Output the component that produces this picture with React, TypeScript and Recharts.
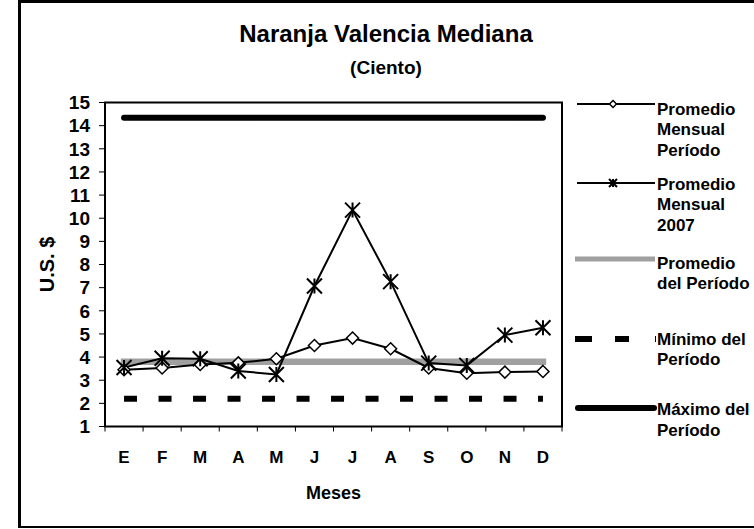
import React from 'react';
import {
  LineChart,
  Line,
  XAxis,
  YAxis,
  Label,
  Legend
} from 'recharts';

const MESES = ['E', 'F', 'M', 'A', 'M', 'J', 'J', 'A', 'S', 'O', 'N', 'D'];
const PROM_MENSUAL_PERIODO = [3.45, 3.53, 3.68, 3.75, 3.93, 4.5, 4.82, 4.36, 3.53, 3.3, 3.35, 3.38];
const PROM_MENSUAL_2007 = [3.55, 3.95, 3.93, 3.4, 3.25, 7.07, 10.35, 7.26, 3.74, 3.64, 4.95, 5.27];
const PROMEDIO_PERIODO = 3.8;
const MINIMO_PERIODO = 2.2;
const MAXIMO_PERIODO = 14.34;
const Y_TICKS = [1, 2, 3, 4, 5, 6, 7, 8, 9, 10, 11, 12, 13, 14, 15];

const FONT = '"Liberation Sans", Arial, sans-serif';
const W = 754;
const H = 529;
const MARGIN = { top: 102.5, right: 192, left: 20, bottom: 10 };
const Y_AXIS_W = 85;
const X_AXIS_H = 92.5;
const PLOT_L = MARGIN.left + Y_AXIS_W;
const PLOT_R = W - MARGIN.right;
const PLOT_T = MARGIN.top;
const PLOT_B = H - MARGIN.bottom - X_AXIS_H;
// half of one month's slot (12 months across the plot)
const HALF_SLOT = (PLOT_R - PLOT_L) / 24;

const data = MESES.map((mes, i) => ({
  mes,
  periodo: PROM_MENSUAL_PERIODO[i],
  y2007: PROM_MENSUAL_2007[i],
  promedio: PROMEDIO_PERIODO,
  minimo: MINIMO_PERIODO,
  maximo: MAXIMO_PERIODO,
}));

const Diamond = ({ cx, cy, r = 6 }: any) => (
  <path
    d={`M${cx},${cy - r}L${cx + r},${cy}L${cx},${cy + r}L${cx - r},${cy}Z`}
    fill="#fff"
    stroke="#000"
    strokeWidth={1.5}
  />
);

const Asterisk = ({ cx, cy, r = 7.5 }: any) => (
  <path
    d={`M${cx - r},${cy - r}L${cx + r},${cy + r}M${cx - r},${cy + r}L${cx + r},${cy - r}M${cx},${cy - r}L${cx},${cy + r}`}
    stroke="#000"
    strokeWidth={2}
    fill="none"
  />
);

const MonthTick = ({ x, payload, index }: any) => {
  const half = payload.offset || HALF_SLOT;
  return (
    <g>
      <rect x={x - half - 0.5} y={PLOT_B} width={1} height={5} fill="#000" />
      {index === MESES.length - 1 && <rect x={x + half - 0.5} y={PLOT_B} width={1} height={5} fill="#000" />}
      <text x={x} y={PLOT_B + 36} textAnchor="middle" fontSize={17} fontWeight="bold" fontFamily={FONT} fill="#000">
        {payload.value}
      </text>
    </g>
  );
};

const ValueTick = ({ y, payload }: any) => (
  <g>
    <rect x={PLOT_L - 6} y={y - 0.5} width={6} height={1} fill="#000" />
    <text x={PLOT_L - 15} y={y} dy="0.355em" textAnchor="end" fontSize={19} fontWeight="bold" fontFamily={FONT} fill="#000">
      {payload.value}
    </text>
  </g>
);

const legendItems = [
  { lines: ['Promedio', 'Mensual', 'Período'], symbolY: 104, textY: 114.5 },
  { lines: ['Promedio', 'Mensual', '2007'], symbolY: 183, textY: 189.5 },
  { lines: ['Promedio', 'del Período'], symbolY: 259, textY: 268.5 },
  { lines: ['Mínimo del', 'Período'], symbolY: 339, textY: 344.5 },
  { lines: ['Máximo del', 'Período'], symbolY: 408, textY: 415 },
];

const LegendBox = () => {
  const ox = 570;
  const oy = 90;
  const x0 = 577 - ox;
  const x1 = 655 - ox;
  const mid = 613 - ox;
  return (
    <svg width={184} height={360} style={{ display: 'block', overflow: 'visible' }}>
      {legendItems.map((item, i) => {
        const sy = item.symbolY - oy;
        let symbol: React.ReactNode = null;
        if (i === 0) {
          symbol = (
            <g>
              <line x1={x0} x2={x1} y1={sy} y2={sy} stroke="#000" strokeWidth={2} />
              <Diamond cx={mid} cy={sy} r={3.5} />
            </g>
          );
        } else if (i === 1) {
          symbol = (
            <g>
              <line x1={x0} x2={x1} y1={sy} y2={sy} stroke="#000" strokeWidth={2} />
              <Asterisk cx={mid} cy={sy} r={4} />
            </g>
          );
        } else if (i === 2) {
          symbol = <line x1={x0 - 2} x2={x1} y1={sy} y2={sy} stroke="#a0a0a0" strokeWidth={5} />;
        } else if (i === 3) {
          symbol = (
            <line x1={x0 - 2} x2={x1 + 1} y1={sy} y2={sy} stroke="#000" strokeWidth={6} strokeDasharray="17 23 14 26 1" />
          );
        } else {
          symbol = <line x1={x0 + 1} x2={x1 - 1} y1={sy} y2={sy} stroke="#000" strokeWidth={6} strokeLinecap="round" />;
        }
        return (
          <g key={i}>
            {symbol}
            {item.lines.map((t, j) => (
              <text
                key={j}
                x={657 - ox}
                y={item.textY - oy + j * 20.7}
                fontSize={17}
                fontWeight="bold"
                fontFamily={FONT}
                fill="#000"
              >
                {t}
              </text>
            ))}
          </g>
        );
      })}
    </svg>
  );
};

const YTitle = () => {
  const cx = MARGIN.left + 27;
  const cy = (PLOT_T + PLOT_B) / 2;
  return (
    <text
      x={cx}
      y={cy}
      transform={`rotate(-90, ${cx}, ${cy})`}
      textAnchor="middle"
      dominantBaseline="central"
      fontSize={20}
      fontWeight="bold"
      fontFamily={FONT}
      fill="#000"
    >
      U.S. $
    </text>
  );
};

const XTitle = () => (
  <text
    x={(PLOT_L + PLOT_R) / 2}
    y={PLOT_B + 72.5}
    textAnchor="middle"
    fontSize={18}
    fontWeight="bold"
    fontFamily={FONT}
    fill="#000"
  >
    Meses
  </text>
);

export default function App() {
  return (
    <div style={{ position: 'absolute', left: 0, top: 0, width: W, height: H, overflow: 'hidden', background: '#fff' }}>
      <div
        style={{
          position: 'absolute',
          left: 18,
          top: 0,
          width: 760,
          height: 528,
          boxSizing: 'border-box',
          borderTop: '3px solid #000',
          borderLeft: '3px solid #000',
          borderBottom: '2px solid #000',
        }}
      />
      <div style={{ position: 'absolute', left: 0, top: 0 }}>
        <LineChart width={W} height={H} data={data} margin={MARGIN}>
          <text x={386} y={42.3} textAnchor="middle" fontSize={24} fontWeight="bold" fontFamily={FONT} fill="#000">
            Naranja Valencia Mediana
          </text>
          <text x={386} y={74} textAnchor="middle" fontSize={19} fontWeight="bold" fontFamily={FONT} fill="#000">
            (Ciento)
          </text>
          {/* frame of the plot area */}
          <rect
            x={PLOT_L}
            y={PLOT_T}
            width={PLOT_R - PLOT_L}
            height={PLOT_B - PLOT_T}
            fill="none"
            stroke="#000"
            strokeWidth={2}
          />
          <YTitle />
          <XTitle />
          <XAxis
            dataKey="mes"
            padding={{ left: HALF_SLOT, right: HALF_SLOT }}
            height={X_AXIS_H}
            stroke="#000"
            tickLine={false}
            tickSize={5}
            tickMargin={0}
            interval={0}
            tick={<MonthTick />}
          />
          <YAxis
            type="number"
            domain={[1, 15]}
            ticks={Y_TICKS}
            interval={0}
            width={Y_AXIS_W}
            stroke="#000"
            tickLine={false}
            tickSize={6}
            tickMargin={9}
            tick={<ValueTick />}
          />
          <Legend
            layout="vertical"
            align="center"
            verticalAlign="middle"
            wrapperStyle={{ left: 570, top: 90, width: 184, height: 360 }}
            content={<LegendBox />}
          />
          <Line
            dataKey="promedio"
            name="Promedio del Período"
            stroke="#a0a0a0"
            strokeWidth={6.5}
            strokeLinecap="square"
            dot={false}
            activeDot={false}
            isAnimationActive={false}
          />
          <Line
            dataKey="minimo"
            name="Mínimo del Período"
            stroke="#000"
            strokeWidth={6}
            strokeDasharray="13 21.5"
            dot={false}
            activeDot={false}
            isAnimationActive={false}
          />
          <Line
            dataKey="maximo"
            name="Máximo del Período"
            stroke="#000"
            strokeWidth={6}
            strokeLinecap="round"
            dot={false}
            activeDot={false}
            isAnimationActive={false}
          />
          <Line
            dataKey="periodo"
            name="Promedio Mensual Período"
            stroke="#000"
            strokeWidth={2}
            dot={(p: any) => <Diamond key={`d-${p.index}`} cx={p.cx} cy={p.cy} />}
            activeDot={false}
            isAnimationActive={false}
          />
          <Line
            dataKey="y2007"
            name="Promedio Mensual 2007"
            stroke="#000"
            strokeWidth={2}
            dot={(p: any) => <Asterisk key={`a-${p.index}`} cx={p.cx} cy={p.cy} />}
            activeDot={false}
            isAnimationActive={false}
          />
        </LineChart>
      </div>
    </div>
  );
}
